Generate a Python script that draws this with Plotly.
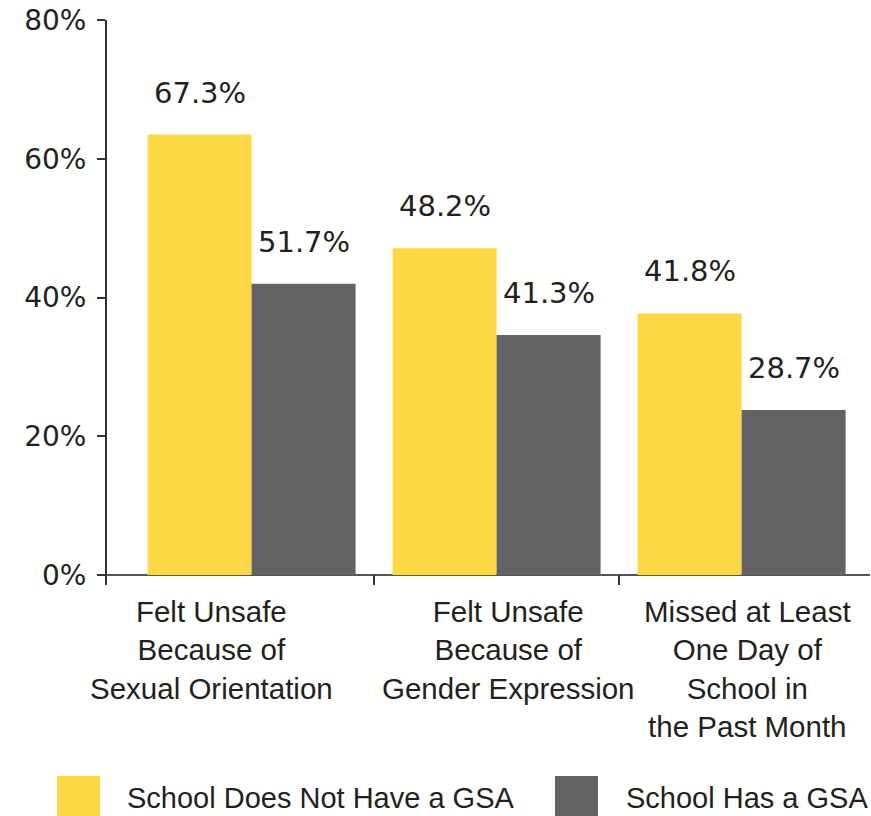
import plotly.graph_objects as go
import numpy as np

# ---- data ----
categories = [
    "Felt Unsafe<br>Because of<br>Sexual Orientation",
    "Felt Unsafe<br>Because of<br>Gender Expression",
    "Missed at Least<br>One Day of<br>School in<br>the Past Month",
]
series_names = ["School Does Not Have a GSA", "School Has a GSA"]
no_gsa_heights = [63.5, 47.1, 37.7]      # drawn bar heights (%)
has_gsa_heights = [42.0, 34.6, 23.8]
no_gsa_labels = ["67.3%", "48.2%", "41.8%"]   # printed value labels
has_gsa_labels = ["51.7%", "41.3%", "28.7%"]
y_tick_values = [0, 20, 40, 60, 80]
y_tick_labels = ["0%", "20%", "40%", "60%", "80%"]

YELLOW = "#FDD846"
GRAY = "#636366"
TEXT = "#231F20"
AXIS = "#333333"

OFF = 0  # page body margin (removed by post_script)
W, H = 871 - OFF, 816 - OFF
L, R, T, B = 107 - OFF, 1, 20 - OFF, 231
plot_w = W - L - R
plot_h = H - T - B

xpos = np.arange(len(categories))
bar_w = 0.4245
label_xshift = [-40, 12, 6]   # category label horizontal nudges (px)

fig = go.Figure()
fig.add_trace(go.Bar(x=xpos - bar_w / 2, y=no_gsa_heights, width=bar_w,
                     marker=dict(color=YELLOW, line=dict(width=0)),
                     name=series_names[0], hoverinfo="skip"))
fig.add_trace(go.Bar(x=xpos + bar_w / 2, y=has_gsa_heights, width=bar_w,
                     marker=dict(color=GRAY, line=dict(width=0)),
                     name=series_names[1], hoverinfo="skip"))
# invisible trace to drive the boundary ticks axis
fig.add_trace(go.Scatter(x=[xpos[0]], y=[0], xaxis="x2", mode="markers",
                         marker=dict(opacity=0), showlegend=False, hoverinfo="skip"))

annotations = []
for xs, ys, labs in [(xpos - bar_w / 2, no_gsa_heights, no_gsa_labels),
                     (xpos + bar_w / 2, has_gsa_heights, has_gsa_labels)]:
    for xv, yv, lab in zip(xs, ys, labs):
        annotations.append(dict(x=xv, y=yv, text=lab, showarrow=False,
                                xref="x", yref="y", yanchor="middle", yshift=42,
                                font=dict(family="DejaVu Sans", size=29, color=TEXT)))

# category labels
for xv, cat, sh in zip(xpos, categories, label_xshift):
    annotations.append(dict(x=xv, y=0, xref="x", yref="paper", text=cat,
                            showarrow=False, yanchor="top", xanchor="center",
                            align="center", xshift=sh, yshift=-8,
                            font=dict(family="Liberation Sans", size=29.5, color=TEXT)))

# legend drawn as swatches + text (paper coordinates); positions in page pixels
def px_to_paper_x(px):
    return (px - OFF - L) / plot_w

def px_to_paper_y(py):
    return (H - B - (py - OFF)) / plot_h

shapes = []
legend_items = [(57, 100, 125, YELLOW, series_names[0]),
                (555, 598, 624, GRAY, series_names[1])]
for x0, x1, tx, col, name in legend_items:
    shapes.append(dict(type="rect", xref="paper", yref="paper",
                       x0=px_to_paper_x(x0), x1=px_to_paper_x(x1),
                       y0=px_to_paper_y(776), y1=px_to_paper_y(820),
                       fillcolor=col, line=dict(width=0)))
    annotations.append(dict(x=px_to_paper_x(tx), y=px_to_paper_y(798), xref="paper", yref="paper",
                            text=name, showarrow=False, xanchor="left", yanchor="middle",
                            font=dict(family="Liberation Sans", size=29, color=TEXT)))

x_range = [-0.59, 2.524]
fig.update_layout(
    width=W, height=H,
    margin=dict(l=L, r=R, t=T, b=B, pad=0, autoexpand=False),
    paper_bgcolor="white", plot_bgcolor="white",
    showlegend=False,
    barmode="overlay",
    hovermode=False,
    annotations=annotations,
    shapes=shapes,
    xaxis=dict(range=x_range, tickvals=list(xpos), ticktext=["", "", ""],
               tickangle=0, automargin=False,
               showgrid=False, zeroline=False, showline=False, ticks="",
               fixedrange=True),
    xaxis2=dict(range=x_range, overlaying="x", side="bottom", anchor="y",
                tickvals=[0.5, 1.5], ticks="inside", ticklen=10, tickwidth=2,
                tickcolor=AXIS, showticklabels=False, showgrid=False,
                zeroline=False, showline=False, automargin=False, fixedrange=True),
    yaxis=dict(range=[-1.44, 80.01], tickvals=y_tick_values, ticktext=y_tick_labels,
               automargin=False, ticklabeloverflow="allow",
               showgrid=False, showline=True, linecolor=AXIS, linewidth=2,
               ticks="outside", ticklen=8, tickwidth=2, tickcolor=AXIS,
               zeroline=True, zerolinecolor="#555555", zerolinewidth=2,
               layer="above traces",
               tickfont=dict(family="DejaVu Sans", size=28, color=TEXT),
               ticklabelstandoff=5, fixedrange=True),
)

fig.write_html("out.html",
               config={"displayModeBar": False, "staticPlot": True},
               post_script="document.body.style.margin='0';document.body.style.overflow='hidden';")
